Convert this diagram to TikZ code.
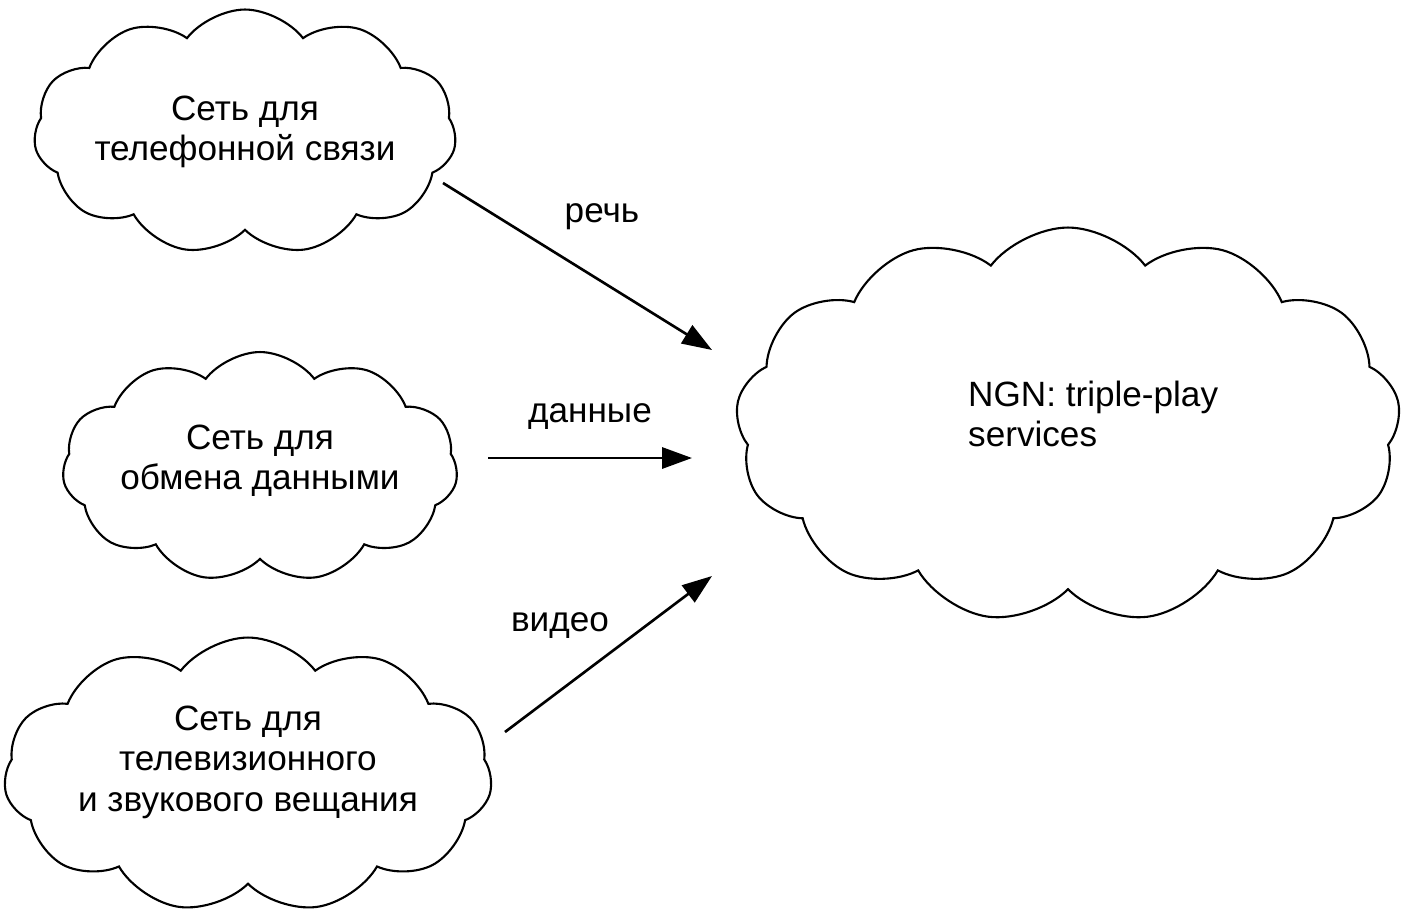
\documentclass[tikz,border=0pt]{standalone}
\usepackage{fontspec}
\setmainfont{Liberation Sans}
\usetikzlibrary{shapes.symbols,arrows.meta}

\begin{document}
\begin{tikzpicture}[x=0.02cm,y=-0.02cm,
    netcloud/.style={cloud,draw,line width=1.2pt,cloud puffs=11,cloud puff arc=105,
      cloud ignores aspect,inner sep=0pt,align=center,font=\fontsize{20}{23}\selectfont},
    flow/.style={-{Triangle[length=17pt,width=12pt]},line width=1.5pt},
    flowlabel/.style={font=\fontsize{20}{23}\selectfont}]
          \useasboundingbox (0,0) rectangle (1402,913);

          % networks on the left
          \node[netcloud,minimum width=8.4cm,minimum height=4.9cm] (phone) at (245,132)
            {Сеть для\\телефонной связи};
          \node[netcloud,text depth=11pt,minimum width=7.9cm,minimum height=4.6cm] (data) at (260,467)
            {Сеть для\\обмена данными};
          \node[netcloud,text depth=19pt,minimum width=9.3cm,minimum height=5.5cm] (tv) at (248,775)
            {Сеть для\\телевизионного\\и звукового вещания};

          % NGN
          \node[netcloud,cloud puffs=13,minimum width=13.3cm,minimum height=7.9cm] (ngn) at (1068,425) {};
          \node[flowlabel,align=left,anchor=west] (ngntext) at (962,414) {NGN: triple-play\\services};

          \coordinate (speechout) at (443,183);
          \coordinate (speechin) at (712,350);
          \coordinate (dataout) at (488,458);
          \coordinate (datain) at (692,458);
          \coordinate (videoout) at (505,732);
          \coordinate (videoin) at (712,576);

          \draw[flow] (speechout) -- (speechin);
          \draw[flow] (dataout) -- (datain);
          \draw[flow] (videoout) -- (videoin);

          \draw(602,217) node[flowlabel] (speech) {речь};
          \draw(590,417) node[flowlabel] (datalbl) {данные};
          \draw(560,626) node[flowlabel] (video) {видео};
        \end{tikzpicture}
\end{document}
